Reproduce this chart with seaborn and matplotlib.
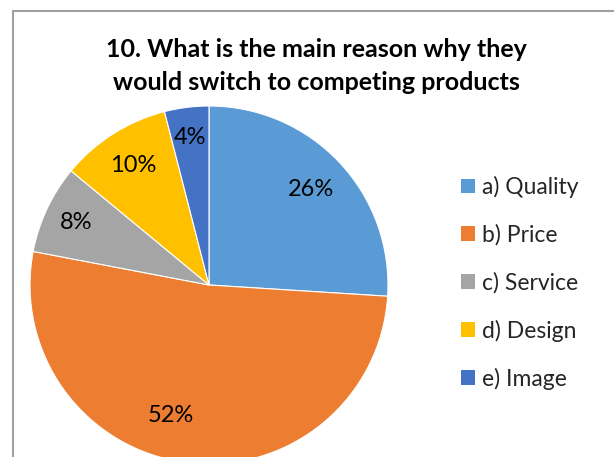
import matplotlib
matplotlib.use("Agg")
import numpy as np
import matplotlib.pyplot as plt
from matplotlib.lines import Line2D
import seaborn as sns

# Survey answers
categories = ["a) Quality", "b) Price", "c) Service", "d) Design", "e) Image"]
shares = [26, 52, 8, 10, 4]
title_text = "10. What is the main reason why they\nwould switch to competing products"

sns.set_theme(style="white")
plt.rcParams["font.family"] = ["Lato", "DejaVu Sans"]

palette = sns.color_palette(["#5B9BD5", "#ED7D31", "#A5A5A5", "#FFC000", "#4472C4"])

# per-slice label placement: (radial distance, angular shift in degrees)
label_place = [(0.78, 0), (0.76, -9), (0.82, 0), (0.79, 0), (0.83, 0)]

W, H = 614, 457
fig = plt.figure(figsize=(W / 100, H / 100), dpi=100)
fig.patch.set_facecolor("white")

# pie centred at (209, 285) px with radius 179 px
cx, cy, r = 209, 285, 179
ax = fig.add_axes([(cx - r) / W, (H - cy - r) / H, 2 * r / W, 2 * r / H])
wedges, _, autotexts = ax.pie(
    shares,
    colors=palette,
    startangle=90,
    counterclock=False,
    autopct=lambda p: f"{p:.0f}%",
    pctdistance=0.80,
    radius=1.0,
    wedgeprops=dict(edgecolor="white", linewidth=0.8),
    textprops=dict(fontsize=17, color="black"),
)
for w, t, (dist, shift) in zip(wedges, autotexts, label_place):
    ang = np.deg2rad((w.theta1 + w.theta2) / 2 + shift)
    t.set_position((dist * np.cos(ang), dist * np.sin(ang)))

ax.set_xlim(-1, 1)
ax.set_ylim(-1, 1)
ax.set_aspect("equal")
ax.axis("off")

fig.text(316 / W, 1 - 38 / H, title_text, ha="center", va="top",
         fontsize=18, fontweight="bold", linespacing=1.5, color="black")

# chart frame (top and left edges visible)
frame_col = "#A0A0A0"
fig.add_artist(Line2D([13 / W, 13 / W], [1 - 11 / H, 0], transform=fig.transFigure,
                      color=frame_col, linewidth=1.5))
fig.add_artist(Line2D([13 / W, 1], [1 - 11 / H, 1 - 11 / H], transform=fig.transFigure,
                      color=frame_col, linewidth=1.5))

leg = fig.legend(
    wedges, categories,
    loc="upper left",
    bbox_to_anchor=(461 / W, 1 - 176 / H),
    frameon=False,
    fontsize=16.5,
    handlelength=0.6,
    handleheight=0.6,
    handletextpad=0.3,
    labelspacing=1.14,
    borderpad=0,
    borderaxespad=0,
)
for h in leg.legend_handles:
    h.set_edgecolor("none")

fig.savefig("out.png", dpi=100, facecolor="white")
